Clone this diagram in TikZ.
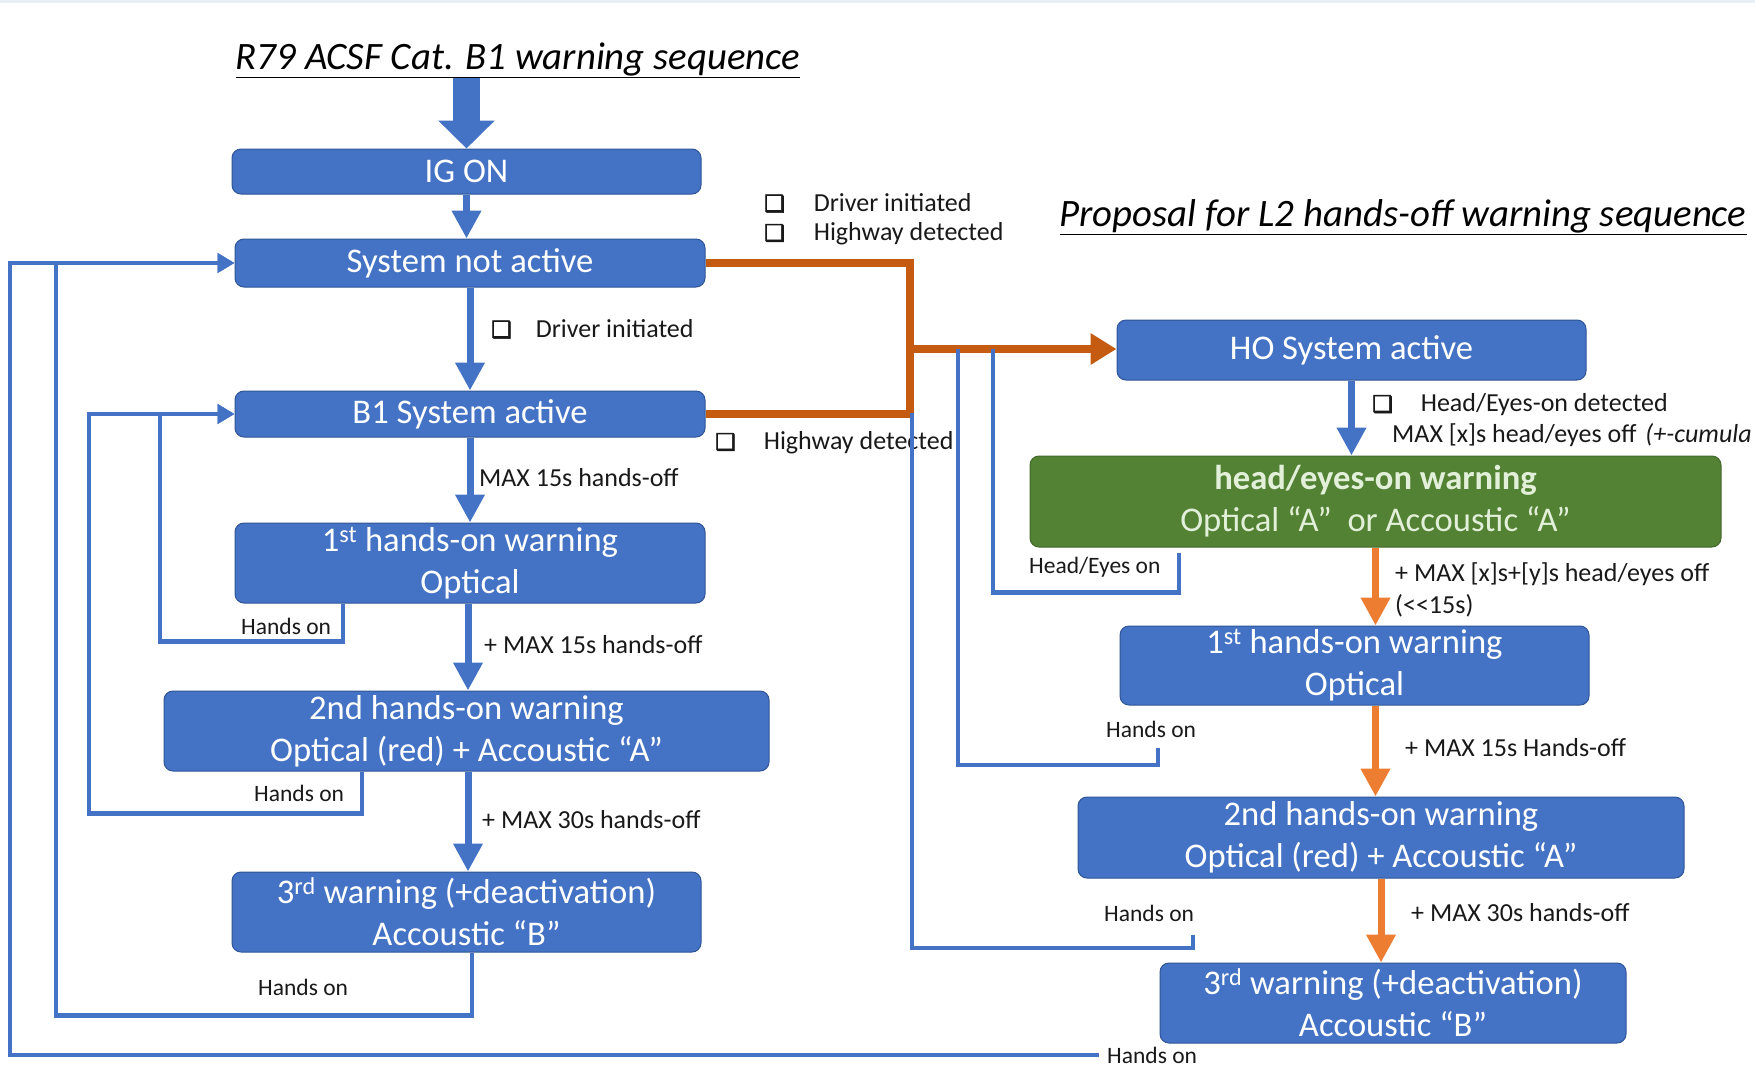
\documentclass[tikz,border=0pt]{standalone}
\usepackage{fontspec}
\setmainfont{Carlito}
\newfontfamily\dejavu[FakeBold=2.5]{DejaVu Sans}
\usetikzlibrary{arrows.meta}
\definecolor{boxblue}{HTML}{4472C4}
\definecolor{boxedge}{HTML}{2F5597}
\definecolor{darkorange}{HTML}{C55A11}
\definecolor{liteorange}{HTML}{ED7D31}
\definecolor{boxgreen}{HTML}{548235}
\definecolor{greentext}{HTML}{E2F0D9}
\definecolor{topband}{HTML}{E9EFF5}
\newcommand\chkbox{{\dejavu\fontsize{23}{23}\selectfont ❑}}
\begin{document}
\begin{tikzpicture}[x=1pt,y=-1pt,
  bbox/.style={draw=boxedge, line width=1pt, fill=boxblue, rounded corners=9pt,
    text=white, align=center, inner sep=0pt, font=\fontsize{34.6}{42}\selectfont},
  gbox/.style={bbox, fill=boxgreen, draw=boxgreen!80!black, text=greentext},
  lbl/.style={anchor=west, inner sep=0pt, font=\fontsize{26}{31}\selectfont, text=black!90},
  hlbl/.style={lbl, font=\fontsize{23.5}{29}\selectfont},
  flow/.style={draw=boxblue, line width=7pt, -{Triangle[length=28pt,width=28pt]}},
  oflow/.style={draw=liteorange, line width=7pt, -{Triangle[length=28pt,width=28pt]}},
  loopline/.style={draw=boxblue, line width=4.5pt},
  loopin/.style={loopline, -{Triangle[length=17pt,width=19pt]}},
  oline/.style={draw=darkorange, line width=8pt, line join=miter},
  ttl/.style={inner sep=0pt, font=\fontsize{38.8}{46}\selectfont\itshape}
]
\fill[white] (0,0) rectangle (1755,1087);
\useasboundingbox (0,0) rectangle (1755,1087);
\fill[topband] (0,0) rectangle (1755,3);

% titles
\node[ttl] (t1) at (518,60) {\underline{R79 ACSF Cat. B1 warning sequence}};
\node[ttl] (t2) at (1403,217) {\underline{Proposal for L2 hands-off warning sequence}};

% left column boxes
\node[bbox, minimum width=469pt, minimum height=45pt] (ig) at (466.5,171.5) {IG ON};
\node[bbox, minimum width=470pt, minimum height=48pt] (sna) at (470,263) {System not active};
\node[bbox, minimum width=470pt, minimum height=46pt] (b1) at (470,414) {B1 System active};
\node[bbox, minimum width=470pt, minimum height=80pt] (w1) at (470,563) {1\textsuperscript{st} hands-on warning\\Optical};
\node[bbox, minimum width=605pt, minimum height=80pt] (w2) at (466.5,731) {2nd hands-on warning\\Optical (red) + Accoustic “A”};
\node[bbox, minimum width=469pt, minimum height=80pt] (w3) at (466.5,912) {3\textsuperscript{rd} warning (+deactivation)\\Accoustic “B”};

% right column boxes
\node[bbox, minimum width=469pt, minimum height=60pt] (ho) at (1351.5,350) {HO System active};
\node[gbox, minimum width=691pt, minimum height=91pt] (gr) at (1375.5,501.5) {\textbf{head/eyes-on warning}\\Optical “A”\ \ or Accoustic “A”};
\node[bbox, minimum width=469pt, minimum height=79pt] (r1) at (1354.5,665.5) {1\textsuperscript{st} hands-on warning\\Optical};
\node[bbox, minimum width=606pt, minimum height=81pt] (r2) at (1381,837.5) {2nd hands-on warning\\Optical (red) + Accoustic “A”};
\node[bbox, minimum width=466pt, minimum height=80pt] (r3) at (1393,1003) {3\textsuperscript{rd} warning (+deactivation)\\Accoustic “B”};

% big entry arrow
\draw[draw=boxblue, line width=27pt, -{Triangle[length=28pt,width=55pt]}] (ig.north |- t1.south) -- (ig.north);

% left flow arrows
\draw[flow] (ig.south) -- (ig.south |- sna.north);
\draw[flow] (sna.south) -- (sna.south |- b1.north);
\draw[flow] (b1.south) -- (b1.south |- w1.north);
\draw[flow] ([xshift=-2pt]w1.south) -- ([xshift=-2pt]w1.south |- w2.north);
\draw[flow] ([xshift=1.5pt]w2.south) -- ([xshift=1.5pt]w2.south |- w3.north);

% left labels
\node[lbl] (lc1) at (491,329) {\chkbox\hspace{24pt}Driver initiated};
\node[lbl] (lm1) at (479,478) {MAX 15s hands-off};
\node[lbl] (lm2) at (484,645) {+ MAX 15s hands-off};
\node[lbl] (lm3) at (482,820) {+ MAX 30s hands-off};
\node[hlbl] (lh1) at (241,626) {Hands on};
\node[hlbl] (lh2) at (254,793) {Hands on};
\node[hlbl] (lh3) at (258,987) {Hands on};
\node[lbl] (tc1) at (764,203) {\chkbox\hspace{29pt}Driver initiated};
\node[lbl] (tc2) at (764,234) {\chkbox\hspace{29pt}Highway detected};
\node[lbl] (lc2) at (715,443) {\chkbox\hspace{28pt}Highway detected};

% orange connection
\coordinate (oj) at (910,349);
\draw[oline] (sna.east) -| (oj) |- (b1.east);
\draw[oline, -{Triangle[length=26pt,width=30pt]}] (oj) -- (oj -| ho.west);

% right flow arrows
\draw[flow] (ho.south) -- (ho.south |- gr.north);
\draw[oflow] (gr.south) -- (gr.south |- r1.north);
\draw[oflow] (gr.south |- r1.south) -- (gr.south |- r2.north);
\draw[oflow] (r2.south) -- (r2.south |- r3.north);

% right labels
\node[lbl] (rc1) at (1372,405) {\chkbox\hspace{28pt}Head/Eyes-on detected};
\node[lbl] (rm0) at (1392,435) {MAX [x]s head/eyes off\hspace{9pt}\textit{(+-cumula}};
\node[lbl] (rm1) at (1395,574) {+ MAX [x]s+[y]s head/eyes off};
\node[lbl] (rm1b) at (1395,606) {(<\kern0pt<15s)};
\node[lbl] (rm2) at (1405,748) {+ MAX 15s Hands-off};
\node[lbl] (rm3) at (1411,913) {+ MAX 30s hands-off};
\node[hlbl] (rh0) at (1029,567) {Head/Eyes on};
\node[hlbl] (rh1) at (1106,729) {Hands on};
\node[hlbl] (rh2) at (1104,913) {Hands on};
\node[hlbl] (rh3) at (1107,1055) {Hands on};

% left return loops
\draw[loopin] ([xshift=-127pt]w1.south) -- ++(0,38) -| (160,414) -- (b1.west);
\draw[loopin] ([xshift=-104.5pt]w2.south) -- ++(0,42) -| (89,414) -- (b1.west);
\draw[loopin] ([xshift=5.5pt]w3.south) -- ++(0,63) -| (56,263) -- (sna.west);
\draw[loopin] ([xshift=-8pt]rh3.west) -| (10,263) -- (sna.west);

% right return loops
\coordinate (ge) at ([xshift=-196.5pt,yshift=-5pt]gr.south);
\draw[loopline] (ge) -- ++(0,40) -| (993,349);
\coordinate (r1h) at (1158,748);
\draw[loopline] (r1h) -- ++(0,17) -| (958,349);
\coordinate (r2h) at (1193,935);
\draw[loopline] (r2h) -- ++(0,13) -| (912,413);
\end{tikzpicture}
\end{document}
